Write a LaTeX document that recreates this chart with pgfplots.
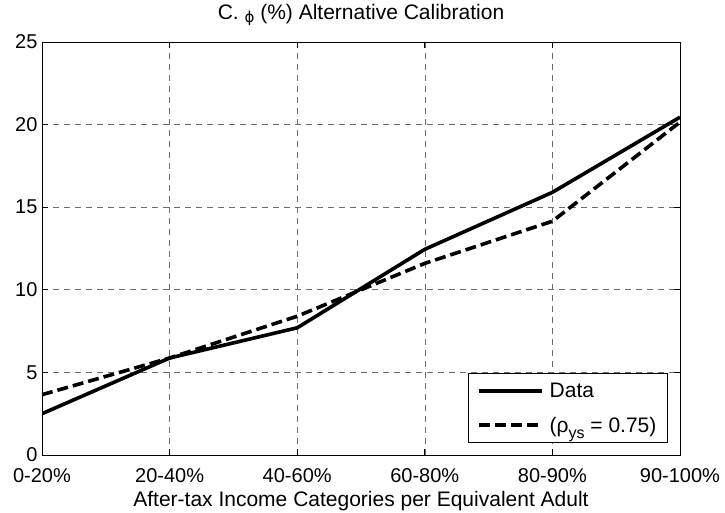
\documentclass[border=0pt]{standalone}
\usepackage{fontspec}
\setmainfont{Liberation Sans}
\newfontfamily\dv{DejaVu Sans}
\usepackage{pgfplots}
\pgfplotsset{compat=1.18}
\newcommand\fs{\fontsize{20bp}{24bp}\selectfont}
\newcommand\fl{\fontsize{21bp}{25bp}\selectfont}
\begin{document}
\begin{tikzpicture}
\useasboundingbox (-42bp,-58bp) rectangle (683bp,455bp);
\begin{axis}[
  scale only axis,
  width=638bp, height=413bp,
  xmin=0, xmax=5, ymin=0, ymax=25,
  xtick={0,1,2,3,4,5},
  xticklabels={0-20\%,20-40\%,40-60\%,60-80\%,80-90\%,90-100\%},
  ytick={0,5,10,15,20,25},
  /pgf/number format/assume math mode=true,
  tick label style={font=\fs},
  xticklabel style={anchor=base, yshift=-27bp},
  yticklabel style={xshift=-1bp},
  tick align=inside,
  major tick length=6bp,
  axis line style={line width=0.9bp},
  every tick/.style={black, line width=0.7bp},
  grid=major,
  major grid style={gray!85!black, line width=0.6bp, dash pattern=on 6bp off 5bp},
  every axis title shift=0pt,
  title={C. \raisebox{-3bp}{\dv\fontsize{15bp}{15bp}\selectfont ϕ} (\%) Alternative Calibration},
  title style={font=\fl, at={(axis description cs:0.5,1)}, anchor=base, yshift=22bp},
  xlabel={After-tax Income Categories per Equivalent Adult},
  xlabel style={font=\fl, at={(axis description cs:0.5,0)}, anchor=base, yshift=-51bp},
  legend style={font=\fl, at={(axis description cs:0.981,0.029)}, anchor=south east,
    draw=black, line width=0.9bp, fill=white, inner xsep=9bp, inner ysep=7bp,
    row sep=14bp, cells={anchor=west}},
  legend cell align=left,
  legend image code/.code={\draw[#1] (0bp,0bp) -- (63bp,0bp); \path (67bp,0bp);},
]
\addplot[black, line width=3.6bp] coordinates {
 (0,2.5) (1,5.87) (2,7.7) (3,12.45) (4,15.9) (5,20.45)};
\addlegendentry{Data}
\addplot[black, line width=3.6bp, dash pattern=on 11bp off 5bp] coordinates {
 (0,3.65) (1,5.87) (2,8.4) (3,11.6) (4,14.15) (5,20.15)};
\addlegendentry{(ρ\raisebox{-6bp}{\fontsize{16bp}{16bp}\selectfont ys} = 0.75)}
\end{axis}
\end{tikzpicture}
\end{document}
